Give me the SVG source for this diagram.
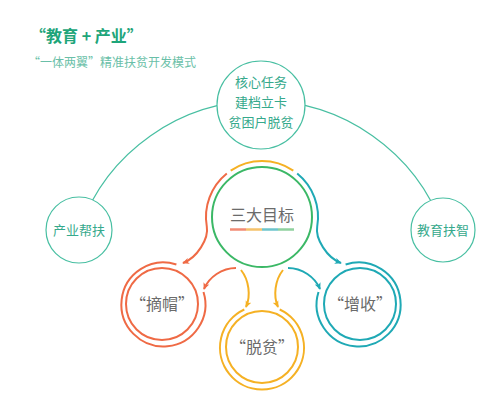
<svg xmlns="http://www.w3.org/2000/svg" width="500" height="405" viewBox="0 0 500 405">
<defs>
<style>
text{font-family:"Noto Sans CJK SC","Noto Sans",sans-serif}
.title{font-size:16px;font-weight:bold;fill:#1ea57a}
.sub{font-size:12px;fill:#6abfa8}
.nt{font-size:13px;fill:#36a98c;text-anchor:middle}
.gt{font-size:16px;fill:#6b6b6b;text-anchor:middle}
.frame{fill:#fff;stroke:#48bfa2;stroke-width:1.2}
.r{fill:none;stroke:#ef6a45;stroke-width:2}
.y{fill:none;stroke:#f5b124;stroke-width:2}
.t{fill:none;stroke:#1fa9b5;stroke-width:2}
.g{fill:#fff;stroke:#3bb866;stroke-width:2}
</style>
<marker id="ar" viewBox="0 0 8 8" refX="7" refY="4" markerWidth="7" markerHeight="7" markerUnits="userSpaceOnUse" orient="auto"><path d="M0,0.5 L8,4 L0,7.5 L2,4 z" fill="#ef6a45"/></marker>
<marker id="ay" viewBox="0 0 8 8" refX="7" refY="4" markerWidth="7" markerHeight="7" markerUnits="userSpaceOnUse" orient="auto"><path d="M0,0.5 L8,4 L0,7.5 L2,4 z" fill="#f5b124"/></marker>
<marker id="at" viewBox="0 0 8 8" refX="7" refY="4" markerWidth="7" markerHeight="7" markerUnits="userSpaceOnUse" orient="auto"><path d="M0,0.5 L8,4 L0,7.5 L2,4 z" fill="#1fa9b5"/></marker>
</defs>
<rect width="500" height="405" fill="#fff"/>
<text class="title" x="30" y="42">“教育 + 产业”</text>
<text class="sub" x="28" y="67">“一体两翼”精准扶贫开发模式</text>
<g id="connectors">
<path d="M 80,228 A 193,193 0 0 1 443,228" fill="none" stroke="#48bfa2" stroke-width="1.2"/>
<path class="y" d="M 230.7,170.6 A 56,56 0 0 1 293.3,170.6"/>
<path class="r" marker-end="url(#ar)" d="M 226.8,173.5 A 56,56 0 0 0 206.8,226.7 C 209,238.5 197,258 183,263"/>
<path class="t" marker-end="url(#at)" d="M 297.2,173.5 A 56,56 0 0 1 317.2,226.7 C 315,238.5 327,258 341,263"/>
<path class="r" marker-end="url(#ar)" d="M 236,268 C 222,268 209,277 204,289"/>
<path class="t" marker-end="url(#at)" d="M 288,268 C 302,268 315,277 320,289"/>
<path class="y" marker-end="url(#ay)" d="M 241,270 C 249,280 251,296 246,307"/>
<path class="y" marker-end="url(#ay)" d="M 283,270 C 275,280 273,296 278,307"/>
</g>
<g id="n-top"><circle class="frame" cx="261" cy="105" r="44"/>
<text class="nt" x="261" y="87">核心任务</text><text class="nt" x="261" y="107">建档立卡</text><text class="nt" x="261" y="127">贫困户脱贫</text></g>
<g id="n-left"><circle class="frame" cx="79" cy="230" r="33"/><text class="nt" x="79" y="235">产业帮扶</text></g>
<g id="n-right"><circle class="frame" cx="443" cy="230" r="32"/><text class="nt" x="443" y="235">教育扶智</text></g>
<g id="n-center"><circle class="g" cx="262" cy="217" r="50"/>
<text class="gt" x="262" y="221">三大目标</text>
<path d="M230,229.5 h16" stroke="#f28b74" stroke-width="2.5"/><path d="M246,229.5 h16" stroke="#f5c26b" stroke-width="2.5"/><path d="M262,229.5 h16" stroke="#6cc4cc" stroke-width="2.5"/><path d="M278,229.5 h16" stroke="#8fd19e" stroke-width="2.5"/></g>
<g id="n-zhaimao"><path class="r" d="M 176.4,264.5 A 42,42 0 1 0 203.5,292"/><circle class="r" cx="162" cy="304" r="36"/><text class="gt" x="162" y="310">“摘帽”</text></g>
<g id="n-zengshou"><path class="t" d="M 345.6,264.5 A 42,42 0 1 1 318.5,292"/><circle class="t" cx="360" cy="304" r="36"/><text class="gt" x="360" y="310">“增收”</text></g>
<g id="n-tuopin"><path class="y" d="M 279.7,309.5 A 42,42 0 1 1 244.3,309.5"/><circle class="y" cx="262" cy="347" r="36"/><text class="gt" x="262" y="353">“脱贫”</text></g>
</svg>
